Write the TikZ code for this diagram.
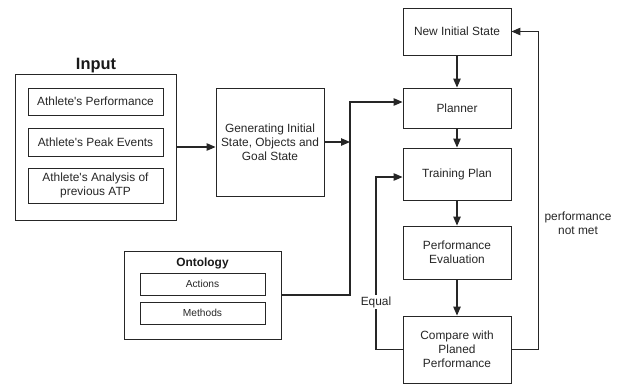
\documentclass[tikz,border=0pt]{standalone}
\usepackage{fontspec}
\setmainfont{Liberation Sans}
\usetikzlibrary{arrows.meta}
\begin{document}
\begin{tikzpicture}[x=1pt,y=-1pt,
  box/.style={draw=black!85,line width=0.9pt,inner sep=2pt,align=center,font=\fontsize{11.9}{14}\selectfont,text=black!85},
  smallbox/.style={box,font=\fontsize{10.2}{12}\selectfont},
  conn/.style={draw=black!85,line width=1.1pt},
  arr/.style={conn,-{Triangle[length=9pt,width=7.5pt]}},
  lbl/.style={font=\fontsize{11.9}{14}\selectfont,text=black!85,align=center}]
\useasboundingbox (0,0) rectangle (620,386);
% Input group
\node[box,minimum width=161pt,minimum height=146pt] (inputbox) at (95.5,147) {};
\node[font=\bfseries\fontsize{16.4}{18}\selectfont,text=black!90] (inputtitle) at (96,66) {Input};
\node[box,minimum width=135pt,minimum height=27pt] (ip1) at (95.5,101.5) {Athlete\textquotesingle s Performance};
\node[box,minimum width=135pt,minimum height=28pt] (ip2) at (95.5,142) {Athlete\textquotesingle s Peak Events};
\node[box,minimum width=135pt,minimum height=35pt] (ip3) at (95.5,185.5) {Athlete\textquotesingle s Analysis of\\previous ATP};
% Generating
\node[box,minimum width=108pt,minimum height=108pt] (gen) at (270,142) {Generating Initial\\State, Objects and\\Goal State};
% Ontology group
\node[box,minimum width=157pt,minimum height=88pt] (onto) at (202.5,295) {};
\node[font=\bfseries\fontsize{11.9}{14}\selectfont,text=black!90] (ontotitle) at (202.5,263) {Ontology};
\node[smallbox,minimum width=125pt,minimum height=22pt] (actions) at (202.5,284) {Actions};
\node[smallbox,minimum width=125pt,minimum height=22pt] (methods) at (202.5,313) {Methods};
% Right column
\node[box,minimum width=108pt,minimum height=47pt] (new) at (457,31.5) {New Initial State};
\node[box,minimum width=108pt,minimum height=40pt] (planner) at (457,108) {Planner};
\node[box,minimum width=108pt,minimum height=52pt] (train) at (457,174) {Training Plan};
\node[box,minimum width=108pt,minimum height=53pt] (perf) at (457,252.5) {Performance\\Evaluation};
\node[box,minimum width=108pt,minimum height=67pt] (cmp) at (457,349.5) {Compare with\\Planed\\Performance};
% junction coordinates
\coordinate (jmid) at (350,142);
\coordinate (jtop) at (350,102);
\coordinate (jeq) at (376,177);
% connectors
\draw[arr] (inputbox.east) -- (inputbox.east -| gen.west);
\draw[arr] (gen.east) -- (jmid);
\draw[arr] (onto.east) -| (jtop) -- (jtop -| planner.west);
\draw[arr] (new.south) -- (planner.north);
\draw[arr] (planner.south) -- (train.north);
\draw[arr] (train.south) -- (perf.north);
\draw[arr] (perf.south) -- (cmp.north);
\draw[arr] (cmp.east) -- ++(27,0) |- (new.east);
\draw[arr] (cmp.west) -| (jeq) -- (jeq -| train.west);
% labels
\node[lbl,fill=white,inner sep=1pt] (equal) at (376,302) {Equal};
\node[lbl] (notmet) at (578,223) {performance\\not met};
\end{tikzpicture}
\end{document}
